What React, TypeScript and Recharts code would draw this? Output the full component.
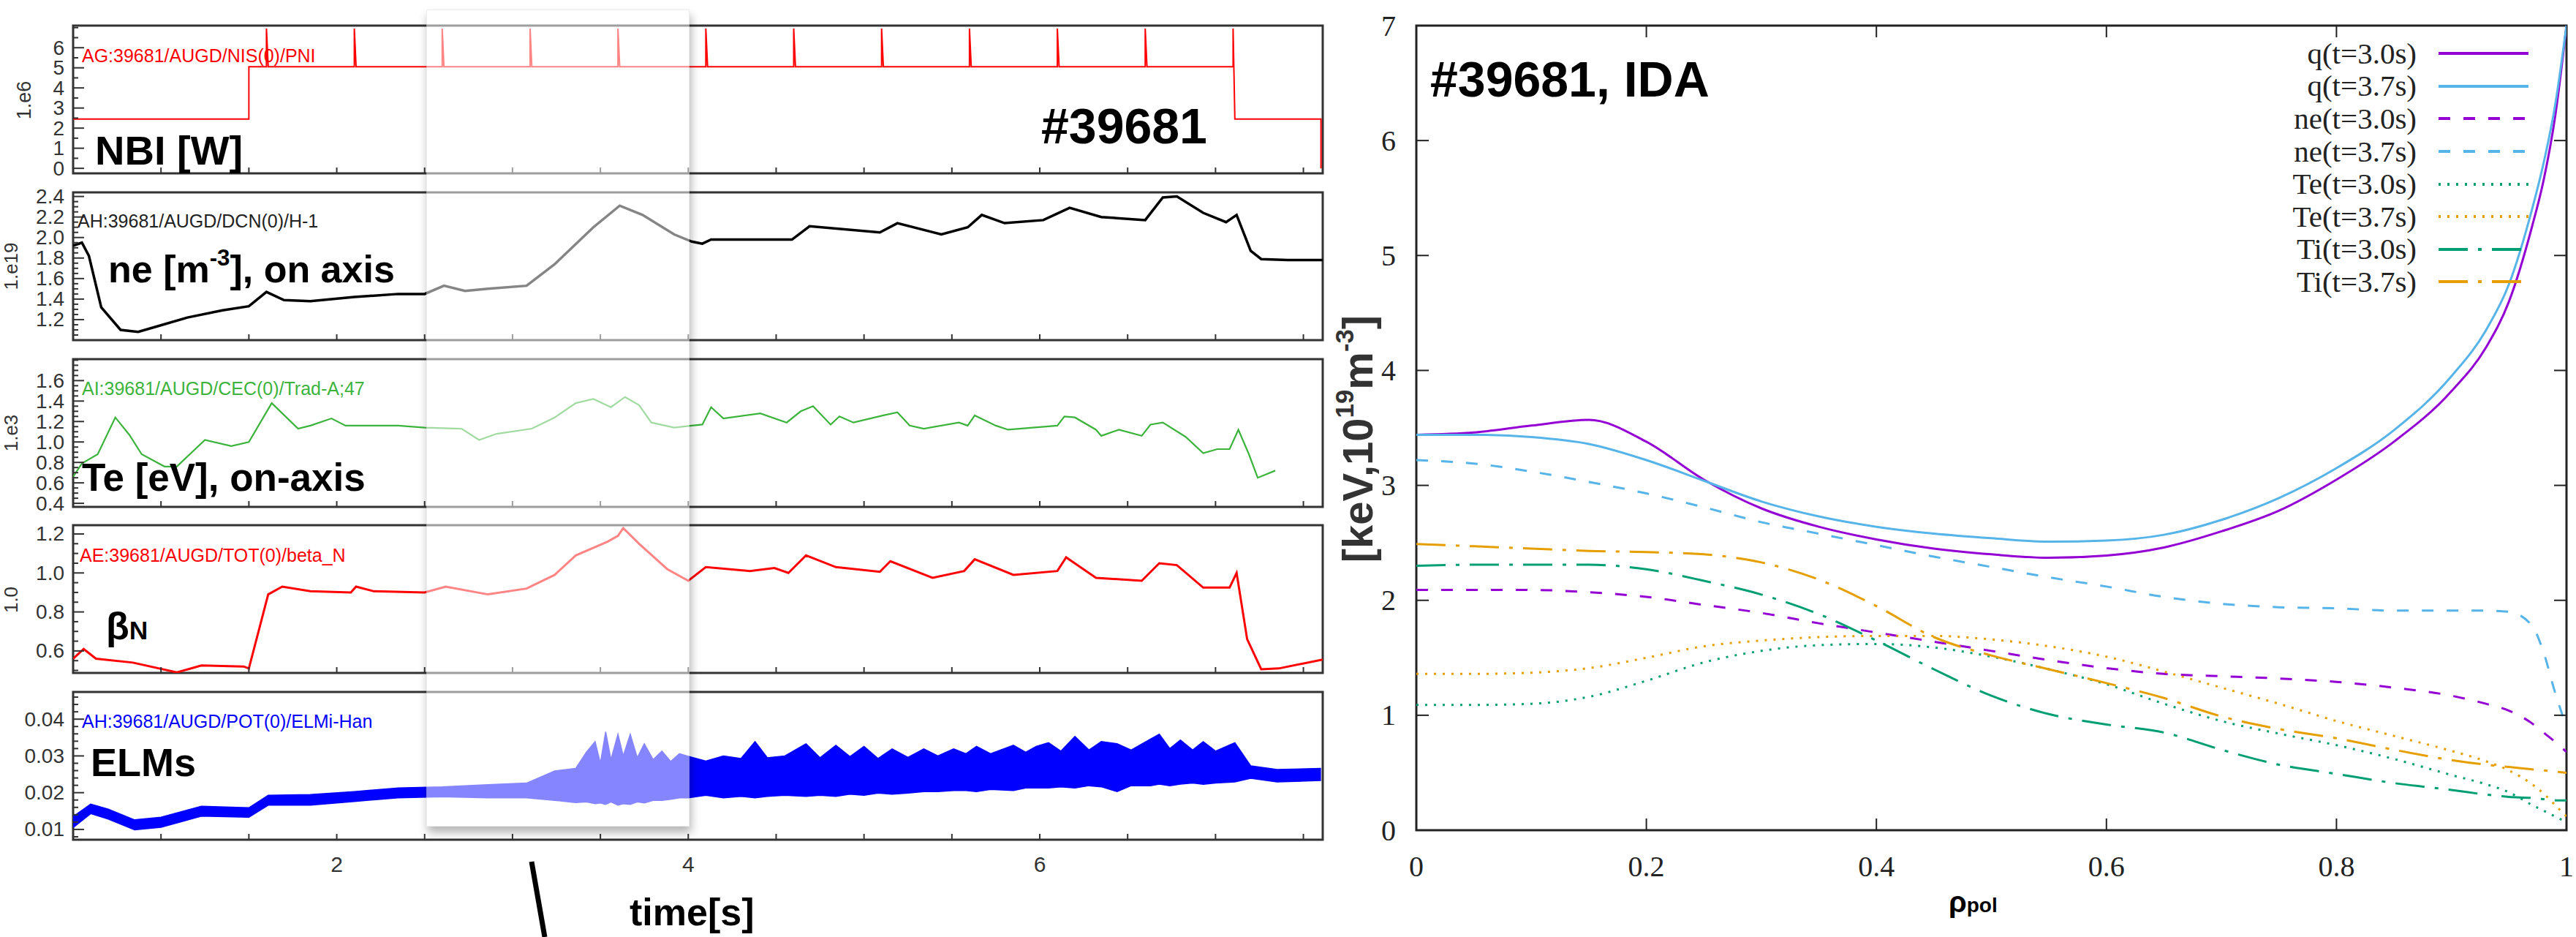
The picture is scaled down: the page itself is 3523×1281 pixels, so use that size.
import React from 'react';
import { ComposedChart, LineChart, Line, Area, XAxis, YAxis, ReferenceArea, Legend } from 'recharts';

const SANS = '"Liberation Sans", Arial, Helvetica, sans-serif';
const SERIF = '"Liberation Serif", "Times New Roman", serif';

// ---- time traces (left) ----
const T_DOMAIN: [number, number] = [0.5, 7.61];
const timeTicks = [1, 1.5, 2, 2.5, 3, 3.5, 4, 4.5, 5, 5.5, 6, 6.5, 7, 7.5];
const timeLabels = [2, 4, 6];
const boxStart = 2.51;
const boxEnd = 4.0;

// NBI power, 1e6 W
const nbiT = [0.5, 1.5, 1.5, 1.6, 1.6, 1.61, 2.1, 2.1, 2.11, 2.6, 2.6, 2.61, 3.1, 3.1, 3.11, 3.6, 3.6, 3.61,
  4.1, 4.1, 4.11, 4.6, 4.6, 4.61, 5.1, 5.1, 5.11, 5.6, 5.6, 5.61, 6.1, 6.1, 6.11, 6.6, 6.6, 6.61, 7.1, 7.1, 7.11, 7.6, 7.6];
const nbiP = [2.45, 2.45, 5.05,
  5.05, 6.95, 5.05, 5.05, 6.95, 5.05, 5.05, 6.95, 5.05, 5.05, 6.95, 5.05,
  5.05, 6.95, 5.05, 5.05, 6.95, 5.05, 5.05, 6.95, 5.05, 5.05, 6.95, 5.05,
  5.05, 6.95, 5.05, 5.05, 6.95, 5.05, 5.05, 6.95, 5.05, 5.05, 6.95, 2.45,
  2.45, 0];

// line-averaged density, 1e19 m^-3
const neT = [0.5, 0.55, 0.59, 0.66, 0.77, 0.87, 0.97, 1.15, 1.35, 1.5, 1.6, 1.7, 1.85, 2.1, 2.35, 2.5, 2.61, 2.73,
  2.86, 3.08, 3.24, 3.46, 3.61, 3.74, 3.92, 4.02, 4.08, 4.13, 4.59, 4.69, 5.09, 5.19, 5.44, 5.59, 5.67, 5.8,
  6.02, 6.17, 6.35, 6.6, 6.7, 6.78, 6.93, 7.06, 7.12, 7.2, 7.26, 7.41, 7.61];
const neV = [1.92, 1.95, 1.82, 1.32, 1.10, 1.08, 1.13, 1.22, 1.29, 1.33, 1.47, 1.39, 1.38, 1.42, 1.45, 1.45, 1.53, 1.48,
  1.50, 1.53, 1.74, 2.10, 2.31, 2.22, 2.03, 1.96, 1.94, 1.98, 1.98, 2.11, 2.05, 2.14, 2.03, 2.10, 2.22, 2.14,
  2.17, 2.29, 2.20, 2.17, 2.39, 2.40, 2.24, 2.15, 2.22, 1.87, 1.79, 1.78, 1.78];

// central Te, 1e3 eV
const teT = [0.5, 0.55, 0.64, 0.74, 0.82, 0.89, 1.02, 1.09, 1.25, 1.4, 1.5, 1.63, 1.78, 1.85, 1.97, 2.05, 2.35, 2.5,
  2.71, 2.81, 2.91, 3.11, 3.24, 3.36, 3.46, 3.56, 3.64, 3.72, 3.79, 3.92, 4.02, 4.08, 4.13, 4.2, 4.41, 4.56,
  4.64, 4.71, 4.81, 4.86, 4.94, 5.11, 5.19, 5.26, 5.34, 5.54, 5.59, 5.63, 5.75, 5.82, 6.1, 6.14, 6.2, 6.32,
  6.35, 6.45, 6.58, 6.63, 6.7, 6.83, 6.93, 7.01, 7.08, 7.13, 7.19, 7.24, 7.34];
const teV = [0.66, 0.79, 0.88, 1.24, 1.07, 0.88, 0.76, 0.76, 1.02, 0.96, 1.0, 1.38, 1.13, 1.16, 1.23, 1.16, 1.16, 1.14,
  1.13, 1.02, 1.08, 1.13, 1.24, 1.38, 1.42, 1.34, 1.44, 1.36, 1.19, 1.14, 1.16, 1.17, 1.34, 1.23, 1.28, 1.19,
  1.30, 1.35, 1.17, 1.25, 1.19, 1.26, 1.29, 1.16, 1.13, 1.19, 1.16, 1.26, 1.16, 1.12, 1.16, 1.25, 1.24, 1.12,
  1.06, 1.12, 1.06, 1.17, 1.19, 1.05, 0.89, 0.93, 0.93, 1.12, 0.88, 0.65, 0.72];

// normalised beta
const bnT = [0.5, 0.56, 0.63, 0.84, 1.09, 1.23, 1.47, 1.5, 1.61, 1.69, 1.85, 2.08, 2.11, 2.21, 2.5, 2.62, 2.86, 3.08,
  3.24, 3.36, 3.54, 3.6, 3.63, 3.72, 3.88, 4.0, 4.1, 4.35, 4.49, 4.57, 4.67, 4.84, 5.09, 5.15, 5.39, 5.57,
  5.63, 5.85, 6.1, 6.15, 6.32, 6.58, 6.68, 6.78, 6.93, 7.08, 7.12, 7.18, 7.26, 7.36, 7.61];
const bnV = [0.56, 0.61, 0.56, 0.54, 0.49, 0.525, 0.52, 0.51, 0.89, 0.93, 0.906, 0.90, 0.93, 0.906, 0.90, 0.93, 0.89, 0.92,
  0.99, 1.09, 1.16, 1.19, 1.23, 1.15, 1.02, 0.96, 1.03, 1.01, 1.025, 1.0, 1.09, 1.03, 1.006, 1.06, 0.975, 1.01,
  1.07, 0.99, 1.01, 1.08, 0.975, 0.96, 1.05, 1.04, 0.925, 0.925, 1.0, 0.66, 0.506, 0.51, 0.556];

// ELM monitor envelope (low / high)
const elmT = [0.5, 0.6, 0.7, 0.85, 1.0, 1.23, 1.5, 1.61, 1.85, 2.1, 2.35, 2.6, 2.86, 3.08, 3.24, 3.36, 3.42, 3.47,
  3.5, 3.53, 3.56, 3.6, 3.63, 3.67, 3.71, 3.75, 3.8, 3.85, 3.9, 3.95, 4.0, 4.1, 4.2, 4.3, 4.38, 4.45, 4.55, 4.67,
  4.75, 4.84, 4.92, 5.0, 5.08, 5.16, 5.25, 5.34, 5.42, 5.51, 5.58, 5.64, 5.72, 5.85, 5.92, 5.98, 6.05, 6.12,
  6.2, 6.28, 6.35, 6.44, 6.52, 6.63, 6.68, 6.74, 6.8, 6.87, 6.93, 7.0, 7.11, 7.2, 7.35, 7.6];
const elmLo = [0.0105, 0.0143, 0.0128, 0.0099, 0.0106, 0.0136, 0.0133, 0.0166, 0.0166, 0.0176, 0.0186, 0.0189,
  0.0186, 0.0186, 0.0179, 0.0173, 0.0175, 0.0170, 0.0172, 0.0168, 0.0175, 0.0166, 0.0170, 0.0168, 0.0175,
  0.0172, 0.0179, 0.0179, 0.0182, 0.0186, 0.0186, 0.0193, 0.0186, 0.0190, 0.0186, 0.0190, 0.0193, 0.0190,
  0.0193, 0.0190, 0.0196, 0.0193, 0.0199, 0.0196, 0.0199, 0.0203, 0.0203, 0.0206, 0.0206, 0.0203, 0.0209,
  0.0206, 0.0213, 0.0213, 0.0213, 0.0216, 0.0213, 0.0219, 0.0216, 0.0203, 0.0219, 0.0219, 0.0223, 0.0219,
  0.0223, 0.0226, 0.0223, 0.0226, 0.0229, 0.0239, 0.0229, 0.0233];
const elmHi = [0.0135, 0.0169, 0.0155, 0.0126, 0.0133, 0.0163, 0.0159, 0.0193, 0.0195, 0.0203, 0.0213, 0.0216,
  0.0222, 0.0226, 0.0259, 0.0266, 0.0310, 0.0339, 0.0280, 0.0366, 0.0290, 0.0359, 0.0300, 0.0359, 0.0295,
  0.0333, 0.0290, 0.0313, 0.0285, 0.0306, 0.0299, 0.0286, 0.0300, 0.0293, 0.0339, 0.0295, 0.0300, 0.0333,
  0.0295, 0.0329, 0.0298, 0.0326, 0.0293, 0.0319, 0.0296, 0.0319, 0.0300, 0.0319, 0.0306, 0.0326, 0.0306,
  0.0329, 0.0310, 0.0326, 0.0336, 0.0313, 0.0353, 0.0316, 0.0339, 0.0333, 0.0316, 0.0346, 0.0359, 0.0320,
  0.0343, 0.0316, 0.0339, 0.0313, 0.0336, 0.0273, 0.0263, 0.0266];

// ---- profiles (right) ----
const rho = [0, 0.05, 0.1, 0.15, 0.2, 0.25, 0.3, 0.35, 0.4, 0.45, 0.5, 0.55, 0.6, 0.65, 0.7, 0.75, 0.8, 0.85, 0.9,
  0.93, 0.95, 0.97, 0.98, 0.99, 1.0];
const q30 = [3.44, 3.46, 3.52, 3.57, 3.38, 3.05, 2.80, 2.64, 2.53, 2.45, 2.40, 2.37, 2.39, 2.46, 2.60, 2.78, 3.05, 3.38,
  3.82, 4.2, 4.6, 5.25, 5.65, 6.2, 7.0];
const q37 = [3.44, 3.44, 3.42, 3.36, 3.22, 3.04, 2.86, 2.73, 2.64, 2.58, 2.54, 2.51, 2.52, 2.57, 2.70, 2.89, 3.15, 3.48,
  3.95, 4.35, 4.75, 5.4, 5.8, 6.3, 7.0];
const ne30 = [2.09, 2.09, 2.09, 2.07, 2.03, 1.96, 1.89, 1.80, 1.72, 1.64, 1.56, 1.48, 1.41, 1.36, 1.34, 1.32, 1.29, 1.24,
  1.17, 1.10, 1.04, 0.93, 0.85, 0.77, 0.68];
const ne37 = [3.22, 3.19, 3.12, 3.03, 2.93, 2.81, 2.68, 2.58, 2.48, 2.38, 2.29, 2.20, 2.12, 2.03, 1.97, 1.94, 1.93, 1.91,
  1.91, 1.91, 1.90, 1.78, 1.55, 1.2, 0.9];
const te30 = [1.09, 1.09, 1.10, 1.16, 1.30, 1.46, 1.56, 1.61, 1.62, 1.59, 1.51, 1.40, 1.27, 1.10, 0.95, 0.84, 0.74, 0.62,
  0.48, 0.40, 0.33, 0.22, 0.17, 0.12, 0.07];
const te37 = [1.36, 1.36, 1.37, 1.41, 1.50, 1.60, 1.65, 1.68, 1.69, 1.69, 1.66, 1.60, 1.51, 1.38, 1.24, 1.10, 0.95, 0.82,
  0.69, 0.60, 0.52, 0.40, 0.32, 0.22, 0.12];
const ti30 = [2.30, 2.31, 2.31, 2.31, 2.27, 2.17, 2.05, 1.88, 1.65, 1.40, 1.17, 1.01, 0.92, 0.85, 0.70, 0.57, 0.49, 0.41,
  0.35, 0.31, 0.29, 0.28, 0.27, 0.26, 0.26];
const ti37 = [2.49, 2.47, 2.45, 2.43, 2.42, 2.40, 2.33, 2.18, 1.95, 1.68, 1.52, 1.40, 1.28, 1.15, 0.99, 0.88, 0.80, 0.70,
  0.61, 0.57, 0.55, 0.53, 0.52, 0.51, 0.50];

const profYTicks = [0, 1, 2, 3, 4, 5, 6, 7];
const profXTicks = [0, 0.2, 0.4, 0.6, 0.8, 1];

const PURPLE = '#9400d3';
const SKY = '#56b4e9';
const GREEN = '#009e73';
const ORANGE = '#e69f00';
const DASH = '16 18';
const DOT = '3 9';
const DASHDOT = '40 14 5 14';

const profSeries = [
  { key: 'q30', name: 'q(t=3.0s)', color: PURPLE, dash: undefined as string | undefined },
  { key: 'q37', name: 'q(t=3.7s)', color: SKY, dash: undefined },
  { key: 'ne30', name: 'ne(t=3.0s)', color: PURPLE, dash: DASH },
  { key: 'ne37', name: 'ne(t=3.7s)', color: SKY, dash: DASH },
  { key: 'te30', name: 'Te(t=3.0s)', color: GREEN, dash: DOT },
  { key: 'te37', name: 'Te(t=3.7s)', color: ORANGE, dash: DOT },
  { key: 'ti30', name: 'Ti(t=3.0s)', color: GREEN, dash: DASHDOT },
  { key: 'ti37', name: 'Ti(t=3.7s)', color: ORANGE, dash: DASHDOT },
];

const nbiData = nbiT.map((t, i) => ({ t, v: nbiP[i] }));
const neData = neT.map((t, i) => ({ t, v: neV[i] }));
const teData = teT.map((t, i) => ({ t, v: teV[i] }));
const bnData = bnT.map((t, i) => ({ t, v: bnV[i] }));
const elmData = elmT.map((t, i) => ({ t, range: [elmLo[i], elmHi[i]] }));
const profData = rho.map((r, i) => ({
  rho: r, q30: q30[i], q37: q37[i], ne30: ne30[i], ne37: ne37[i],
  te30: te30[i], te37: te37[i], ti30: ti30[i], ti37: ti37[i],
}));

// minor tick helper
const steps = (a: number, b: number, s: number) => {
  const out: number[] = [];
  for (let v = a; v <= b + s / 100; v += s) out.push(Math.round(v * 10000) / 10000);
  return out;
};

// ---- layout ----
const PLOT_L = 100;
const PLOT_W = 1709;
const PANEL_H = 202;
const M_TOP = 20;
const M_BOT = 20;
const tx = (t: number) => PLOT_L + ((t - T_DOMAIN[0]) / (T_DOMAIN[1] - T_DOMAIN[0])) * PLOT_W;

const PanelYTick = (p: any) => {
  const { x, y, payload, majors, fmt } = p;
  const v = payload.value;
  const major = majors.some((m: number) => Math.abs(m - v) < 1e-6);
  const ax = x + 12;
  return (
    <g>
      <line x1={ax} x2={ax + (major ? 15 : 7)} y1={y} y2={y} stroke="#333" strokeWidth={2} />
      {major && (
        <text x={x} y={y} textAnchor="end" dominantBaseline="central" fontFamily={SANS} fontSize={28} fill="#333">
          {fmt(v)}
        </text>
      )}
    </g>
  );
};

const TimeTick = (p: any) => {
  const { x, y, payload, show } = p;
  const v = payload.value;
  return (
    <g>
      <line x1={x} x2={x} y1={y} y2={y - 8} stroke="#333" strokeWidth={2} />
      {show && timeLabels.includes(v) && (
        <text x={x} y={y + 33} textAnchor="middle" dominantBaseline="central" fontFamily={SANS} fontSize={30} fill="#333">
          {v}
        </text>
      )}
    </g>
  );
};

interface PanelProps {
  top: number;
  yDomain: [number, number];
  yMajor: number[];
  yMinor: number[];
  yFmt: (v: number) => string;
  showTime?: boolean;
  children?: React.ReactNode;
}

const TimePanel = ({ top, yDomain, yMajor, yMinor, yFmt, showTime, children }: PanelProps) => {
  const xH = showTime ? 70 : 1;
  return (
    <div style={{ position: 'absolute', left: 0, top: top - M_TOP }}>
      <ComposedChart
        width={PLOT_L + PLOT_W + 21}
        height={M_TOP + PANEL_H + xH + M_BOT}
        margin={{ top: M_TOP, right: 21, bottom: M_BOT, left: 40 }}
      >
        <XAxis
          type="number" dataKey="t" domain={T_DOMAIN} allowDataOverflow ticks={timeTicks} interval={0}
          height={xH} tickSize={0} tickMargin={0} axisLine={false} tickLine={false}
          tick={(p: any) => <TimeTick {...p} show={!!showTime} />}
        />
        <YAxis
          type="number" domain={yDomain} allowDataOverflow ticks={yMinor} interval={0} width={60}
          tickSize={0} tickMargin={12} axisLine={false} tickLine={false}
          tick={(p: any) => <PanelYTick {...p} majors={yMajor} fmt={yFmt} />}
        />
        <ReferenceArea
          x1={T_DOMAIN[0]} x2={T_DOMAIN[1]} y1={yDomain[0]} y2={yDomain[1]}
          fill="none" stroke="#333" strokeWidth={3} ifOverflow="visible"
        />
        {children}
      </ComposedChart>
    </div>
  );
};

const ProfXTick = (p: any) => {
  const { x, y, payload } = p;
  return (
    <g>
      <line x1={x} x2={x} y1={y} y2={y - 16} stroke="#222" strokeWidth={2} />
      <text x={x} y={y + 49} textAnchor="middle" dominantBaseline="central" fontFamily={SERIF} fontSize={40} fill="#222">
        {payload.value}
      </text>
    </g>
  );
};

const ProfYTick = (p: any) => {
  const { x, y, payload } = p;
  const ax = x + 28;
  return (
    <g>
      <line x1={ax} x2={ax + 17} y1={y} y2={y} stroke="#222" strokeWidth={2} />
      <text x={x} y={y} textAnchor="end" dominantBaseline="central" fontFamily={SERIF} fontSize={40} fill="#222">
        {payload.value}
      </text>
    </g>
  );
};

const TopTick = (p: any) => (
  <line x1={p.x} x2={p.x} y1={p.y} y2={p.y + 16} stroke="#222" strokeWidth={2} />
);
const RightTick = (p: any) => (
  <line x1={p.x} x2={p.x - 17} y1={p.y} y2={p.y} stroke="#222" strokeWidth={2} />
);

const ProfileLegend = () => (
  <div style={{ fontFamily: SERIF, fontSize: 41, color: '#222' }}>
    {profSeries.map((s) => (
      <div key={s.key} style={{ display: 'flex', alignItems: 'center', height: 44.6 }}>
        <span style={{ width: 330, textAlign: 'right', lineHeight: 1 }}>{s.name}</span>
        <svg width={153} height={20}>
          <line x1={30} x2={153} y1={10} y2={10} stroke={s.color} strokeWidth={4} strokeDasharray={s.dash} />
        </svg>
      </div>
    ))}
  </div>
);

const Txt = ({ x, y, size, color = '#000', bold = true, family = SANS, children }: any) => (
  <div
    style={{
      position: 'absolute', left: x, top: y, fontSize: size, lineHeight: 1, color,
      fontWeight: bold ? 700 : 400, fontFamily: family, whiteSpace: 'nowrap',
    }}
  >
    {children}
  </div>
);

const VTxt = ({ cx, cy, size, bold = false, children }: any) => (
  <div
    style={{
      position: 'absolute', left: cx, top: cy, fontSize: size, lineHeight: 1, color: '#333',
      fontWeight: bold ? 700 : 400, fontFamily: SANS, whiteSpace: 'nowrap',
      transform: 'translate(-50%, -50%) rotate(-90deg)',
    }}
  >
    {children}
  </div>
);

const Sup = ({ children }: any) => (
  <span style={{ fontSize: '0.6em', position: 'relative', top: '-0.75em' }}>{children}</span>
);

const TE_GREEN = '#3cb43c';
const BLUE = '#0000ff';
const RED = '#ff0000';

export default function App() {
  const f0 = (v: number) => String(Math.round(v));
  const f1 = (v: number) => v.toFixed(1);
  const f2 = (v: number) => v.toFixed(2);
  return (
    <div style={{ position: 'fixed', left: 0, top: 0, width: 3523, height: 1281, background: '#fff', overflow: 'hidden' }}>
      <TimePanel top={35} yDomain={[-0.25, 7.1]} yMajor={[0, 1, 2, 3, 4, 5, 6]} yMinor={steps(0, 7, 0.5)} yFmt={f0}>
        <Line data={nbiData} dataKey="v" type="linear" stroke={RED} strokeWidth={2} dot={false} isAnimationActive={false} />
      </TimePanel>
      <TimePanel top={263} yDomain={[1.0, 2.44]} yMajor={[1.2, 1.4, 1.6, 1.8, 2.0, 2.2, 2.4]} yMinor={steps(1.0, 2.4, 0.05)} yFmt={f1}>
        <Line data={neData} dataKey="v" type="linear" stroke="#000" strokeWidth={3.5} dot={false} isAnimationActive={false} />
      </TimePanel>
      <TimePanel top={491} yDomain={[0.365, 1.81]} yMajor={[0.4, 0.6, 0.8, 1.0, 1.2, 1.4, 1.6]} yMinor={steps(0.4, 1.8, 0.05)} yFmt={f1}>
        <Line data={teData} dataKey="v" type="linear" stroke={TE_GREEN} strokeWidth={2.2} dot={false} isAnimationActive={false} />
      </TimePanel>
      <TimePanel top={718} yDomain={[0.487, 1.245]} yMajor={[0.6, 0.8, 1.0, 1.2]} yMinor={steps(0.5, 1.2, 0.05)} yFmt={f1}>
        <Line data={bnData} dataKey="v" type="linear" stroke={RED} strokeWidth={3} dot={false} isAnimationActive={false} />
      </TimePanel>
      <TimePanel top={946} yDomain={[0.0072, 0.0474]} yMajor={[0.01, 0.02, 0.03, 0.04]} yMinor={steps(0.008, 0.046, 0.002)} yFmt={f2} showTime>
        <Area data={elmData} dataKey="range" type="linear" stroke={BLUE} strokeWidth={1.5} fill={BLUE} fillOpacity={1} dot={false} isAnimationActive={false} />
      </TimePanel>

      {/* highlighted time window */}
      <div
        style={{
          position: 'absolute', left: tx(boxStart), top: 13, width: tx(boxEnd) - tx(boxStart), height: 1115,
          background: 'rgba(255,255,255,0.52)', border: '1px solid rgba(0,0,0,0.07)',
          boxShadow: '2px 8px 12px rgba(0,0,0,0.3)',
        }}
      />
      <svg style={{ position: 'absolute', left: 0, top: 0 }} width={3523} height={1281}>
        <line x1={727} y1={1178} x2={745} y2={1281} stroke="#000" strokeWidth={7} />
      </svg>

      {/* signal names */}
      <Txt x={112} y={64} size={25} color={RED} bold={false}>AG:39681/AUGD/NIS(0)/PNI</Txt>
      <Txt x={106} y={290} size={25} color="#222" bold={false}>AH:39681/AUGD/DCN(0)/H-1</Txt>
      <Txt x={112} y={519} size={25} color={TE_GREEN} bold={false}>AI:39681/AUGD/CEC(0)/Trad-A;47</Txt>
      <Txt x={109} y={747} size={25} color={RED} bold={false}>AE:39681/AUGD/TOT(0)/beta_N</Txt>
      <Txt x={112} y={974} size={25} color={BLUE} bold={false}>AH:39681/AUGD/POT(0)/ELMi-Han</Txt>

      {/* panel labels */}
      <Txt x={130} y={178} size={56}>NBI [W]</Txt>
      <Txt x={1424} y={138} size={68}>#39681</Txt>
      <Txt x={148} y={342} size={52}>ne [m<Sup>-3</Sup>], on axis</Txt>
      <Txt x={112} y={626} size={53}>Te [eV], on-axis</Txt>
      <Txt x={145} y={830} size={52}>β<span style={{ fontSize: '0.68em' }}>N</span></Txt>
      <Txt x={124} y={1015} size={54}>ELMs</Txt>
      <Txt x={861} y={1221} size={52}>time[s]</Txt>

      <VTxt cx={33} cy={137} size={27}>1.e6</VTxt>
      <VTxt cx={15} cy={364} size={26}>1.e19</VTxt>
      <VTxt cx={15} cy={592} size={26}>1.e3</VTxt>
      <VTxt cx={15} cy={820} size={26}>1.0</VTxt>

      {/* profiles */}
      <div style={{ position: 'absolute', left: 1847, top: 1 }}>
        <LineChart width={1673} height={1234} data={profData} margin={{ top: 33, right: 9, bottom: 0, left: 10 }}>
          <XAxis
            type="number" dataKey="rho" domain={[0, 1]} allowDataOverflow ticks={profXTicks} interval={0}
            height={100} tickSize={0} tickMargin={0} axisLine={false} tickLine={false} tick={(p: any) => <ProfXTick {...p} />}
          />
          <XAxis
            xAxisId="top" orientation="top" type="number" dataKey="rho" domain={[0, 1]} allowDataOverflow
            ticks={[0.2, 0.4, 0.6, 0.8]} interval={0} height={1} tickSize={0} tickMargin={0}
            axisLine={false} tickLine={false} tick={(p: any) => <TopTick {...p} />}
          />
          <YAxis
            type="number" domain={[0, 7]} allowDataOverflow ticks={profYTicks} interval={0} width={80}
            tickSize={0} tickMargin={28} axisLine={false} tickLine={false} tick={(p: any) => <ProfYTick {...p} />}
          />
          <YAxis
            yAxisId="right" orientation="right" type="number" domain={[0, 7]} allowDataOverflow
            ticks={[1, 2, 3, 4, 5, 6]} interval={0} width={1} tickSize={0} tickMargin={0}
            axisLine={false} tickLine={false} tick={(p: any) => <RightTick {...p} />}
          />
          <ReferenceArea x1={0} x2={1} y1={0} y2={7} fill="none" stroke="#222" strokeWidth={3} ifOverflow="visible" />
          {profSeries.map((s) => (
            <Line
              key={s.key} dataKey={s.key} name={s.name} type="monotone" stroke={s.color} strokeWidth={3}
              strokeDasharray={s.dash} dot={false} isAnimationActive={false}
            />
          ))}
          <Legend
            layout="vertical" align="center" verticalAlign="middle"
            wrapperStyle={{ left: 1128, top: 50, width: 500 }}
            content={() => <ProfileLegend />}
          />
        </LineChart>
      </div>

      <Txt x={1956} y={74} size={68}>#39681, IDA</Txt>
      <Txt x={2665} y={1213} size={40}>ρ<span style={{ fontSize: '0.7em' }}>pol</span></Txt>
      <VTxt cx={1857} cy={600} size={58} bold>[keV,10<Sup>19</Sup>m<Sup>-3</Sup>]</VTxt>
    </div>
  );
}
